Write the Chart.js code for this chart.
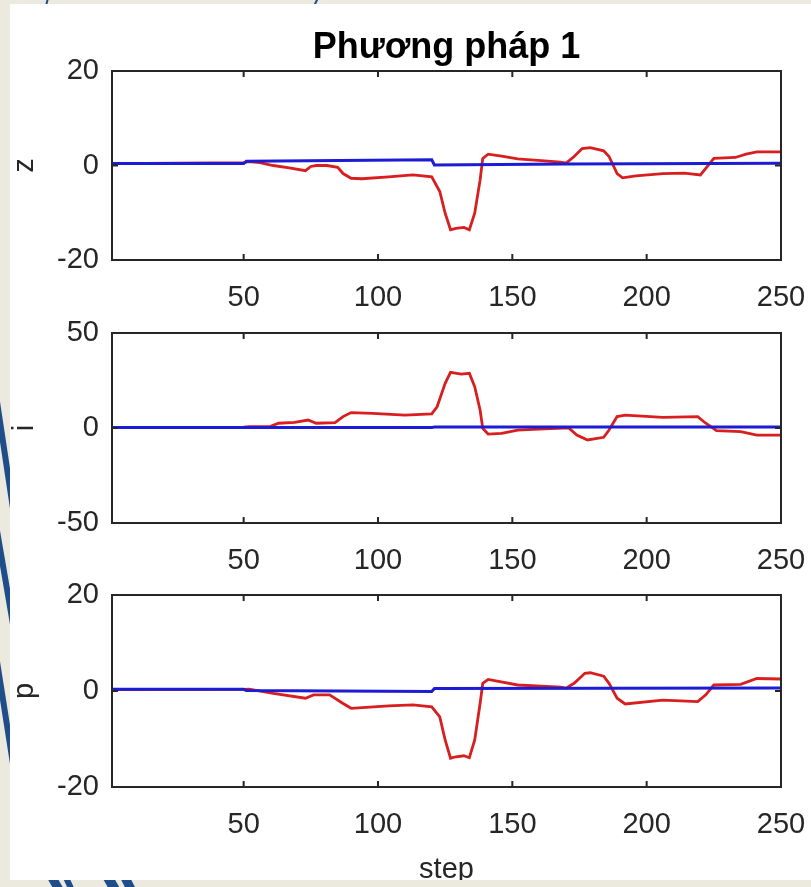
<!DOCTYPE html>
<html>
<head>
<meta charset="utf-8">
<script src="https://cdn.jsdelivr.net/npm/chart.js@4.4.1/dist/chart.umd.min.js"></script>
<style>
    html, body { margin: 0; padding: 0; }
    body { width: 811px; height: 887px; background: #ece9df; position: relative; overflow: hidden; }
    #deco { position: absolute; left: 0; top: 0; }
    #panel { position: absolute; left: 10px; top: 4px; width: 801px; height: 876px; background: #fff; overflow: hidden; }
    #panel canvas { position: absolute; left: 0; }
</style>
</head>
<body>
<svg id="deco" width="811" height="887">
    <g stroke="#1f4d8a" stroke-linecap="butt" fill="none">
        <line x1="-4" y1="395" x2="14" y2="515" stroke-width="6"/>
        <line x1="-4" y1="525" x2="14" y2="630" stroke-width="6"/>
        <line x1="-4" y1="655" x2="14" y2="770" stroke-width="6"/>
        <line x1="42" y1="860" x2="62" y2="895" stroke-width="9"/>
        <line x1="58" y1="860" x2="74" y2="895" stroke-width="6"/>
        <line x1="98" y1="860" x2="118" y2="895" stroke-width="10"/>
        <line x1="116" y1="860" x2="134" y2="895" stroke-width="9"/>
        <line x1="48" y1="-2" x2="46" y2="6" stroke-width="2"/>
        <line x1="318" y1="-2" x2="313" y2="8" stroke-width="2"/>
    </g>
</svg>
<div id="panel">
    <canvas id="chartZ" width="801" height="326" style="top:0px"></canvas>
    <canvas id="chartI" width="801" height="300" style="top:296px"></canvas>
    <canvas id="chartP" width="801" height="320" style="top:556px"></canvas>
</div>
<script>
// Trục x chung
const xTicks = [50, 100, 150, 200, 250];
const xTickLabels = ['50', '100', '150', '200', '250'];

// Đồ thị z
const stepZ = [1, 50, 52, 56, 61, 67, 73, 75, 77, 81, 85, 87, 90, 94, 104, 113, 120, 123, 125, 127, 129, 132, 134, 136, 138, 139, 141, 146, 152, 162, 168, 170, 173, 176, 179, 184, 186, 189, 191, 196, 206, 214, 220, 222, 225, 233, 237, 241, 250];
const zRed = [0.4, 0.6, 0.8, 0.6, 0.0, -0.5, -1.1, -0.2, 0.0, 0.0, -0.4, -1.7, -2.7, -2.8, -2.4, -2.0, -2.4, -5.5, -10.1, -13.6, -13.3, -13.1, -13.6, -10.1, -3.1, 1.5, 2.4, 2.0, 1.4, 1.0, 0.7, 0.5, 1.9, 3.6, 3.8, 3.1, 1.9, -1.7, -2.6, -2.2, -1.7, -1.6, -2.0, -0.6, 1.5, 1.7, 2.4, 2.9, 2.9];
const stepZBlue = [1, 50, 51, 120, 121, 170, 250];
const zBlue = [0.4, 0.4, 0.9, 1.2, 0.1, 0.3, 0.5];
const zTicks = [-20, 20];

// Đồ thị i
const stepI = [1, 50, 52, 60, 63, 69, 74, 77, 84, 87, 90, 98, 110, 120, 122, 125, 127, 131, 134, 136, 138, 139, 141, 146, 152, 162, 169, 171, 174, 178, 184, 186, 189, 192, 206, 219, 222, 226, 235, 241, 250];
const iRed = [0.3, 0.5, 0.7, 0.9, 2.5, 3.0, 4.2, 2.5, 2.8, 6.0, 8.1, 7.7, 6.8, 7.4, 11.2, 23.5, 29.3, 28.4, 28.8, 21.7, 9.5, -0.2, -3.2, -2.8, -1.1, -0.5, 0.0, 0.0, -3.7, -6.3, -4.9, -1.1, 6.0, 6.8, 5.6, 6.0, 2.5, -1.4, -1.9, -3.7, -3.7];
const stepIBlue = [1, 120, 121, 250];
const iBlue = [0.3, 0.2, 0.5, 0.5];
const iTicks = [-50, 50];

// Đồ thị p
const stepP = [1, 50, 52, 61, 73, 76, 82, 87, 90, 104, 113, 120, 123, 125, 127, 129, 132, 134, 136, 138, 139, 141, 152, 168, 170, 173, 177, 179, 184, 186, 189, 192, 206, 219, 222, 225, 235, 241, 250];
const pRed = [0.3, 0.35, 0.4, -0.5, -1.5, -0.8, -0.8, -2.6, -3.6, -3.1, -2.9, -3.3, -5.4, -10.2, -14.0, -13.7, -13.5, -13.9, -10.2, -2.6, 1.6, 2.4, 1.25, 0.8, 0.6, 1.6, 3.7, 3.8, 3.1, 1.6, -1.5, -2.7, -1.9, -2.2, -0.8, 1.25, 1.4, 2.6, 2.5];
const stepPBlue = [1, 50, 51, 120, 121, 250];
const pBlue = [0.35, 0.35, 0.1, -0.1, 0.5, 0.6];
const pTicks = [-20, 20];

const FONT = '"Liberation Sans", Arial, Helvetica, sans-serif';
const AXIS_COLOR = '#262626';
const RED = '#d81e1e';
const BLUE = '#1c1cd4';
const TICK_LEN = 6;

function toPoints(xs, ys) {
    return xs.map((x, i) => ({ x: x, y: ys[i] }));
}

// bỏ phần đệm tự động để vùng vẽ nằm đúng chỗ
function noAutoPadding(axis) {
    axis.paddingLeft = 0;
    axis.paddingRight = 0;
    axis.paddingTop = 0;
    axis.paddingBottom = 0;
}

// Khung hộp kiểu MATLAB với vạch chia hướng vào trong
const matlabBox = {
    id: 'matlabBox',
    afterDatasetsDraw(chart) {
        const { ctx, chartArea: a, scales } = chart;
        ctx.save();
        ctx.strokeStyle = AXIS_COLOR;
        ctx.lineWidth = 2;
        ctx.strokeRect(a.left, a.top, a.right - a.left, a.bottom - a.top);
        ctx.beginPath();
        scales.x.ticks.forEach(t => {
            const px = scales.x.getPixelForValue(t.value);
            ctx.moveTo(px, a.bottom);
            ctx.lineTo(px, a.bottom - TICK_LEN);
            ctx.moveTo(px, a.top);
            ctx.lineTo(px, a.top + TICK_LEN);
        });
        scales.y.ticks.forEach(t => {
            const py = scales.y.getPixelForValue(t.value);
            ctx.moveTo(a.left, py);
            ctx.lineTo(a.left + TICK_LEN, py);
            ctx.moveTo(a.right, py);
            ctx.lineTo(a.right - TICK_LEN, py);
        });
        ctx.stroke();
        ctx.restore();
    }
};

function makeChart(id, opts) {
    const ctx = document.getElementById(id).getContext('2d');
    const scales = {
        x: {
            type: 'linear',
            min: 1,
            max: 250,
            afterBuildTicks: axis => { axis.ticks = xTicks.map(v => ({ value: v })); },
            afterFit: axis => { axis.height = opts.xHeight; noAutoPadding(axis); },
            grid: { display: false, drawTicks: false },
            border: { display: false },
            ticks: {
                padding: 21,
                color: AXIS_COLOR,
                font: { family: FONT, size: 29 },
                maxRotation: 0,
                autoSkip: false,
                callback: (v, i) => xTickLabels[i]
            },
            title: {
                display: !!opts.xTitle,
                text: opts.xTitle || '',
                color: AXIS_COLOR,
                font: { family: FONT, size: 29, lineHeight: 0.7 },
                padding: { top: 0, bottom: 0 }
            }
        },
        y: {
            min: opts.yRange[0],
            max: opts.yRange[1],
            afterFit: axis => { axis.width = 102; noAutoPadding(axis); },
            grid: { display: false, drawTicks: false },
            border: { display: false },
            ticks: {
                stepSize: opts.yRange[1],
                padding: 13,
                color: AXIS_COLOR,
                font: { family: FONT, size: 29 }
            },
            title: {
                display: true,
                text: opts.yTitle,
                color: AXIS_COLOR,
                font: { family: FONT, size: 29, lineHeight: 1 },
                padding: 0
            }
        }
    };
    if (opts.title) {
        // tiêu đề đặt trên trục phụ để căn giữa theo vùng vẽ
        scales.xTop = {
            type: 'linear',
            position: 'top',
            afterFit: axis => { axis.height = opts.topHeight; noAutoPadding(axis); },
            grid: { display: false, drawTicks: false },
            border: { display: false },
            ticks: { display: false },
            title: {
                display: true,
                text: opts.title,
                color: '#000',
                font: { family: FONT, size: 36, weight: 'bold', lineHeight: 1.2 },
                padding: { top: 22, bottom: 0 }
            }
        };
    }
    return new Chart(ctx, {
        type: 'line',
        data: {
            datasets: [{
                data: toPoints(opts.xs, opts.red),
                borderColor: RED,
                borderWidth: 2.8,
                pointRadius: 0,
                tension: 0,
                order: 2
            }, {
                data: toPoints(opts.xsBlue, opts.blue),
                borderColor: BLUE,
                borderWidth: 3,
                pointRadius: 0,
                tension: 0,
                order: 1
            }]
        },
        options: {
            responsive: false,
            animation: false,
            devicePixelRatio: 1,
            layout: { padding: { left: 0, right: 30, top: opts.padTop, bottom: 0 } },
            plugins: {
                legend: { display: false },
                tooltip: { enabled: false },
                title: { display: false }
            },
            scales: scales
        },
        plugins: [matlabBox]
    });
}

makeChart('chartZ', {
    xs: stepZ, red: zRed, xsBlue: stepZBlue, blue: zBlue,
    yRange: zTicks, yTitle: 'z', title: 'Phương pháp 1',
    padTop: 0, topHeight: 67, xHeight: 70
});
makeChart('chartI', {
    xs: stepI, red: iRed, xsBlue: stepIBlue, blue: iBlue,
    yRange: iTicks, yTitle: 'i',
    padTop: 33, xHeight: 77
});
makeChart('chartP', {
    xs: stepP, red: pRed, xsBlue: stepPBlue, blue: pBlue,
    yRange: pTicks, yTitle: 'p', xTitle: 'step',
    padTop: 35, xHeight: 93
});
</script>
</body>
</html>
